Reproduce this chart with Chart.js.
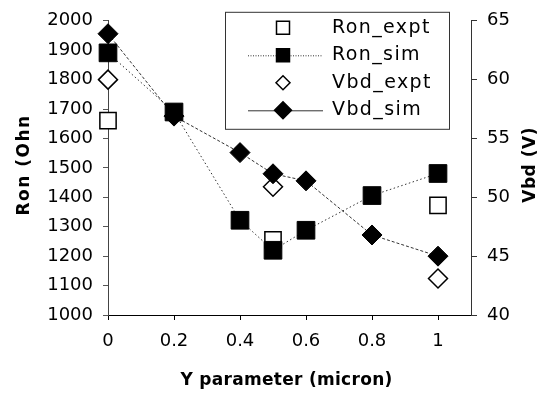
<!DOCTYPE html>
<html>
<head>
<meta charset="utf-8">
<title>Ron / Vbd vs Y parameter</title>
<script src="https://cdn.jsdelivr.net/npm/chart.js@4.4.0/dist/chart.umd.min.js"></script>
<style>
  html, body { margin: 0; padding: 0; background: #fff; }
  #wrap { width: 538px; height: 394px; }
</style>
</head>
<body>
<div id="wrap"><canvas id="ronChart" width="538" height="394"></canvas></div>
<script>
// values
const yParam = [0, 0.2, 0.4, 0.5, 0.6, 0.8, 1];
const ronSim = [1891, 1690, 1322, 1220, 1288, 1406, 1481];
const vbdSim = [63.9, 56.9, 53.8, 52.0, 51.4, 46.8, 45.0];

const yParamExpt = [0, 0.5, 1];
const ronExpt = [1661, 1255, 1373];
const vbdExpt = [60.0, 50.9, 43.1];

const xTicks = [0, 0.2, 0.4, 0.6, 0.8, 1];
const ronTicks = [1000, 1100, 1200, 1300, 1400, 1500, 1600, 1700, 1800, 1900, 2000];
const vbdTicks = [40, 45, 50, 55, 60, 65];

const seriesNames = ['Ron_expt', 'Ron_sim', 'Vbd_expt', 'Vbd_sim'];
const xTitle = 'Y parameter (micron)';
const ronTitle = 'Ron (Ohn';
const vbdTitle = 'Vbd (V)';

const FONT = '"DejaVu Sans", "Liberation Sans", Arial, sans-serif';

const toPoints = (xs, ys) => xs.map((x, i) => ({ x: x, y: ys[i] }));
const setTicks = list => scale => { scale.ticks = list.map(v => ({ value: v })); };
const plainLabel = v => String(v);

// legend drawn as a boxed key inside the plot, like the original
const boxLegend = {
    id: 'boxLegend',
    afterDraw(chart) {
        const ctx = chart.ctx;
        const ca = chart.chartArea;
        const bx = ca.left + 117, by = ca.top - 9, bw = 224, bh = 117;

        ctx.save();
        ctx.fillStyle = '#fff';
        ctx.fillRect(bx, by, bw, bh);
        ctx.strokeStyle = '#333';
        ctx.lineWidth = 1;
        ctx.strokeRect(bx + 0.5, by + 0.5, bw, bh);

        chart.data.datasets.forEach((ds, i) => {
            const cy = by + 16 + i * 27.5;
            const mx = bx + 58;
            if (ds.showLine) {
                ctx.save();
                ctx.strokeStyle = ds.borderColor;
                ctx.lineWidth = 1;
                ctx.setLineDash(ds.legendDash || []);
                ctx.beginPath();
                ctx.moveTo(bx + 23, cy + 0.5);
                ctx.lineTo(bx + 98, cy + 0.5);
                ctx.stroke();
                ctx.restore();
            }
            drawMarker(ctx, ds.pointStyle, mx, cy, ds.legendSize, ds.pointBackgroundColor !== '#fff');

            ctx.fillStyle = '#000';
            ctx.font = '19px ' + FONT;
            ctx.letterSpacing = '1.4px';
            ctx.textAlign = 'left';
            ctx.textBaseline = 'middle';
            ctx.fillText(ds.label, bx + 107, cy);
        });
        ctx.restore();
    }
};

function drawMarker(ctx, style, x, y, r, filled) {
    ctx.save();
    ctx.beginPath();
    if (style === 'rect') {
        ctx.rect(x - r, y - r, 2 * r, 2 * r);
    } else {
        ctx.moveTo(x - r, y);
        ctx.lineTo(x, y - r);
        ctx.lineTo(x + r, y);
        ctx.lineTo(x, y + r);
        ctx.closePath();
    }
    ctx.fillStyle = filled ? '#000' : '#fff';
    ctx.fill();
    ctx.strokeStyle = '#000';
    ctx.lineWidth = 1.5;
    ctx.stroke();
    ctx.restore();
}

// axis titles: both vertical titles read bottom-to-top
const axisTitles = {
    id: 'axisTitles',
    afterDraw(chart) {
        const ctx = chart.ctx;
        const ca = chart.chartArea;
        const midY = (ca.top + ca.bottom) / 2 - 3;
        ctx.save();
        ctx.fillStyle = '#000';
        ctx.font = 'bold 17px ' + FONT;
        ctx.textAlign = 'center';
        ctx.textBaseline = 'alphabetic';

        ctx.letterSpacing = '0.3px';
        ctx.fillText(xTitle, (ca.left + ca.right) / 2 - 3, ca.bottom + 70);

        ctx.letterSpacing = '1.5px';
        ctx.save();
        ctx.translate(ca.left - 79, midY);
        ctx.rotate(-Math.PI / 2);
        ctx.fillText(ronTitle, 0, 0);
        ctx.restore();

        ctx.letterSpacing = '0.5px';
        ctx.save();
        ctx.translate(ca.right + 64, midY);
        ctx.rotate(-Math.PI / 2);
        ctx.fillText(vbdTitle, 0, 0);
        ctx.restore();
        ctx.restore();
    }
};

const tickFont = { family: FONT, size: 18 };

new Chart(document.getElementById('ronChart'), {
    type: 'scatter',
    data: {
        datasets: [
            {
                label: seriesNames[0],
                data: toPoints(yParamExpt, ronExpt),
                yAxisID: 'y',
                pointStyle: 'rect',
                pointRadius: 11.5,
                pointBackgroundColor: '#fff',
                pointBorderColor: '#000',
                pointBorderWidth: 1.5,
                legendSize: 6.5,
                showLine: false,
                order: 2
            },
            {
                label: seriesNames[1],
                data: toPoints(yParam, ronSim),
                yAxisID: 'y',
                pointStyle: 'rect',
                pointRadius: 12.5,
                pointBackgroundColor: '#000',
                pointBorderColor: '#000',
                pointBorderWidth: 1,
                legendSize: 6.5,
                showLine: true,
                borderColor: '#333',
                borderWidth: 1,
                borderDash: [1.5, 2.5],
                legendDash: [1, 1.5],
                order: 1
            },
            {
                label: seriesNames[2],
                data: toPoints(yParamExpt, vbdExpt),
                yAxisID: 'y2',
                pointStyle: 'rectRot',
                pointRadius: 9.5,
                pointBackgroundColor: '#fff',
                pointBorderColor: '#000',
                pointBorderWidth: 1.5,
                legendSize: 7,
                showLine: false,
                order: 2
            },
            {
                label: seriesNames[3],
                data: toPoints(yParam, vbdSim),
                yAxisID: 'y2',
                pointStyle: 'rectRot',
                pointRadius: 10,
                pointBackgroundColor: '#000',
                pointBorderColor: '#000',
                pointBorderWidth: 1,
                legendSize: 8.5,
                showLine: true,
                borderColor: '#333',
                borderWidth: 1,
                borderDash: [3, 2],
                legendDash: [],
                order: 1
            }
        ]
    },
    options: {
        responsive: false,
        animation: false,
        clip: false,
        layout: { padding: { top: 20, right: 0, bottom: 0, left: 0 } },
        plugins: {
            legend: { display: false },
            tooltip: { enabled: false }
        },
        scales: {
            x: {
                type: 'linear',
                min: 0,
                max: 1.1,
                afterBuildTicks: setTicks(xTicks),
                afterFit: s => { s.height = 79; },
                grid: { drawOnChartArea: false, tickLength: 5, color: '#000' },
                border: { color: '#000', width: 1 },
                ticks: { color: '#000', font: tickFont, padding: 11, maxRotation: 0, callback: plainLabel }
            },
            y: {
                position: 'left',
                min: 1000,
                max: 2000,
                afterBuildTicks: setTicks(ronTicks),
                afterFit: s => { s.width = 108; },
                grid: { drawOnChartArea: false, tickLength: 5, color: '#555' },
                border: { color: '#444', width: 1, dash: [2, 3] },
                ticks: { color: '#000', font: tickFont, padding: 10, callback: plainLabel }
            },
            y2: {
                position: 'right',
                min: 40,
                max: 65,
                afterBuildTicks: setTicks(vbdTicks),
                afterFit: s => { s.width = 67; },
                grid: { drawOnChartArea: false, tickLength: 6, color: '#333' },
                border: { color: '#333', width: 1, dash: [5, 1] },
                ticks: { color: '#000', font: tickFont, padding: 10, callback: plainLabel }
            }
        }
    },
    plugins: [boxLegend, axisTitles]
});
</script>
</body>
</html>
